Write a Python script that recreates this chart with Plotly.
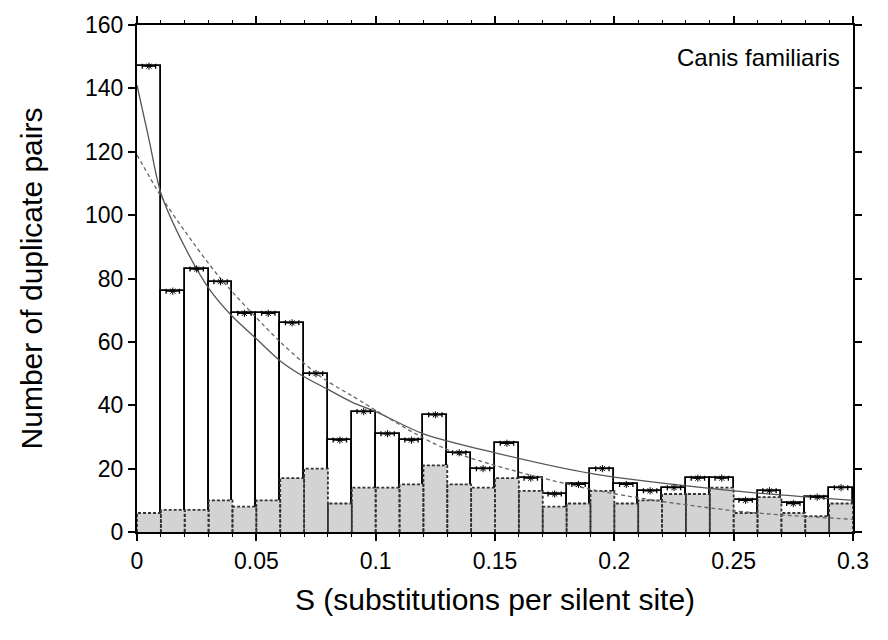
import plotly.graph_objects as go
import numpy as np

# ---- data ----
bin_width = 0.01
bin_left = [round(i * 0.01, 2) for i in range(30)]
total_pairs = [147, 76, 83, 79, 69, 69, 66, 50, 29, 38,
               31, 29, 37, 25, 20, 28, 17, 12, 15, 20,
               15, 13, 14, 17, 17, 10, 13, 9, 11, 14]
gray_pairs = [6, 7, 7, 10, 8, 10, 17, 20, 9, 14,
              14, 15, 21, 15, 14, 17, 13, 8, 9, 13,
              9, 10, 12, 12, 14, 6, 11, 6, 5, 9]

solid_x = [0, 0.005, 0.01, 0.02, 0.03, 0.04, 0.05, 0.06, 0.07, 0.08, 0.09,
           0.10, 0.12, 0.15, 0.19, 0.25, 0.30]
solid_y = [141, 124, 107, 90, 77, 68, 61, 54, 49, 45, 41,
           38, 31, 25, 18.5, 13, 10]

dash_x = [0, 0.01, 0.02, 0.035, 0.06, 0.077, 0.09, 0.13, 0.19, 0.25, 0.30]
dash_y = [119, 106, 95, 80, 60, 49, 43, 26, 13.5, 6.7, 4]

x_ticks = [0, 0.05, 0.1, 0.15, 0.2, 0.25, 0.3]
x_tick_labels = ["0", "0.05", "0.1", "0.15", "0.2", "0.25", "0.3"]
y_ticks = [0, 20, 40, 60, 80, 100, 120, 140, 160]

centers = [b + bin_width / 2 for b in bin_left]

fig = go.Figure()

# white histogram bars
fig.add_trace(go.Bar(
    x=centers, y=total_pairs, width=bin_width,
    marker=dict(color="white", line=dict(color="black", width=1.8)),
    showlegend=False, hoverinfo="skip"))

# gray bars
fig.add_trace(go.Bar(
    x=centers, y=gray_pairs, width=bin_width,
    marker=dict(color="#d3d3d3", line=dict(width=0)),
    showlegend=False, hoverinfo="skip"))

# dashed outline of gray bars
ox, oy = [], []
for b, g in zip(bin_left, gray_pairs):
    ox += [b, b, b + bin_width, b + bin_width, None]
    oy += [0, g, g, 0, None]
fig.add_trace(go.Scatter(
    x=ox, y=oy, mode="lines",
    line=dict(color="#333333", width=1.8, dash="3px,2px"),
    showlegend=False, hoverinfo="skip"))

# fitted curves
fig.add_trace(go.Scatter(
    x=solid_x, y=solid_y, mode="lines",
    line=dict(color="#555555", width=1.3, shape="spline", smoothing=0.8),
    showlegend=False, hoverinfo="skip"))
fig.add_trace(go.Scatter(
    x=dash_x, y=dash_y, mode="lines",
    line=dict(color="#666666", width=1.3, dash="4px,3px", shape="spline", smoothing=0.8),
    showlegend=False, hoverinfo="skip"))

# markers with small horizontal bars at bar tops
fig.add_trace(go.Scatter(
    x=centers, y=total_pairs, mode="markers",
    marker=dict(symbol="asterisk-open", size=6, color="black",
                line=dict(color="black", width=1)),
    error_x=dict(type="constant", value=0.0028, width=2.5, thickness=1.3, color="black"),
    showlegend=False, hoverinfo="skip"))

font_family = "Liberation Sans, Arial, Helvetica, sans-serif"

fig.add_annotation(
    x=0.985, y=0.935, xref="paper", yref="paper",
    text="Canis familiaris", showarrow=False, xanchor="right", yanchor="middle",
    font=dict(family=font_family, size=24, color="black"))

fig.update_layout(
    width=888, height=640,
    margin=dict(l=137, r=35, t=22, b=108),
    paper_bgcolor="white", plot_bgcolor="white",
    barmode="overlay", bargap=0,
    font=dict(family=font_family, size=23, color="black"),
    xaxis=dict(
        range=[0, 0.3], tickvals=x_ticks, ticktext=x_tick_labels,
        ticks="outside", ticklen=7, tickwidth=1.5, tickcolor="black",
        showline=True, linecolor="black", linewidth=2, mirror="allticks",
        showgrid=False, zeroline=False,
        tickfont=dict(size=23, family=font_family),
        title=dict(text="S (substitutions per silent site)", font=dict(size=30, family=font_family), standoff=16),
        minor=dict(dtick=0.01, ticks="outside", ticklen=3, tickwidth=1, tickcolor="black"),
    ),
    yaxis=dict(
        range=[0, 160], tickvals=y_ticks,
        ticks="outside", ticklen=7, tickwidth=1.5, tickcolor="black",
        showline=True, linecolor="black", linewidth=2, mirror="allticks",
        showgrid=False, zeroline=False,
        tickfont=dict(size=23, family=font_family),
        title=dict(text="Number of duplicate pairs", font=dict(size=30, family=font_family), standoff=34),
    ),
)

fig.write_html("out.html")
